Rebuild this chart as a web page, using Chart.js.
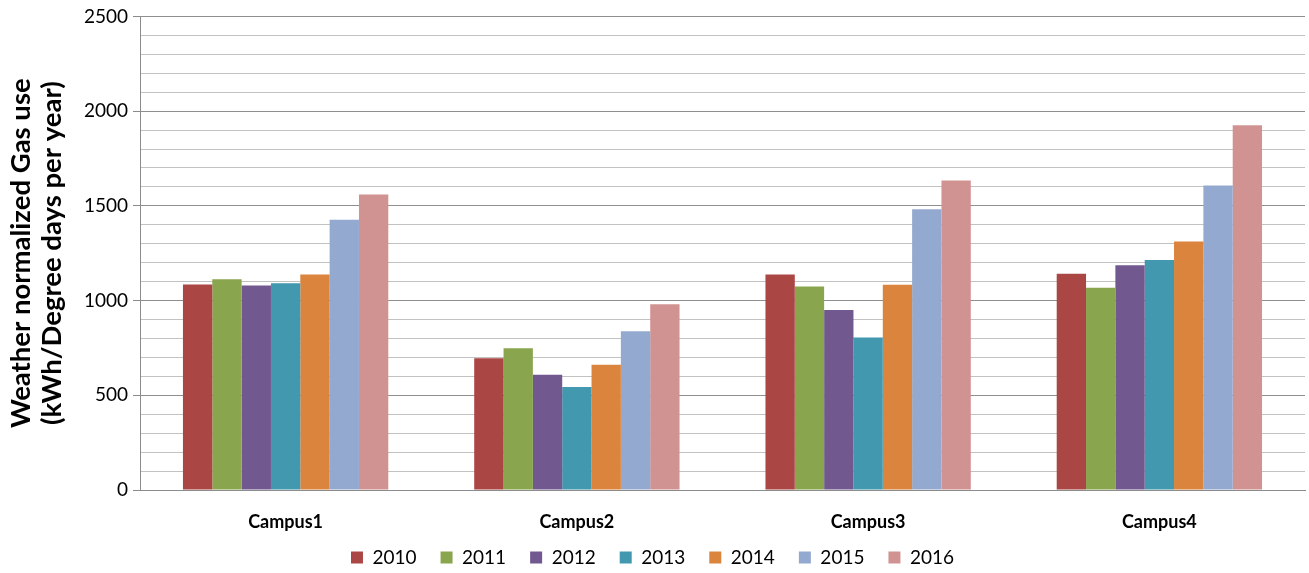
<!DOCTYPE html>
<html>
<head>
<meta charset="utf-8">
<script src="https://cdn.jsdelivr.net/npm/chart.js@4/dist/chart.umd.min.js"></script>
<style>
  html, body { margin: 0; padding: 0; background: #fff; }
  #wrap { width: 1309px; height: 573px; }
</style>
</head>
<body>
<div id="wrap"><canvas id="graphCanvas"></canvas></div>
<script>
// Data
const campuses = ['Campus1', 'Campus2', 'Campus3', 'Campus4'];
const years = ['2010', '2011', '2012', '2013', '2014', '2015', '2016'];
const gas2010 = [1085, 695, 1138, 1141];
const gas2011 = [1112, 748, 1074, 1067];
const gas2012 = [1080, 608, 950, 1186];
const gas2013 = [1092, 544, 805, 1214];
const gas2014 = [1138, 661, 1083, 1312];
const gas2015 = [1427, 838, 1482, 1608];
const gas2016 = [1560, 980, 1634, 1926];
const yTicks = [0, 500, 1000, 1500, 2000, 2500];

const colors = ['#AA4643', '#89A54E', '#71588F', '#4198AF', '#DB843D', '#93A9CF', '#D19392'];
const series = [gas2010, gas2011, gas2012, gas2013, gas2014, gas2015, gas2016];
const font = 'Lato, "Open Sans", sans-serif';

const ctx = document.getElementById('graphCanvas').getContext('2d');

const lineGraph = new Chart(ctx, {
    type: 'bar',
    data: {
        labels: campuses,
        datasets: years.map((y, i) => ({
            label: y,
            data: series[i],
            backgroundColor: colors[i],
            borderWidth: 0,
            categoryPercentage: 0.705,
            barPercentage: 1.0,
        })),
    },
    options: {
        responsive: true,
        maintainAspectRatio: false,
        animation: false,
        layout: { padding: { top: 13, right: 4, bottom: -4, left: 0 } },
        plugins: {
            tooltip: { enabled: false },
            legend: {
                position: 'bottom',
                labels: {
                    boxWidth: 12,
                    boxHeight: 12,
                    padding: 24,
                    color: '#000',
                    font: { family: font, size: 19 },
                },
            },
        },
        scales: {
            x: {
                grid: { display: false, drawTicks: false },
                border: { display: true, color: '#8c8c8c', width: 1 },
                ticks: {
                    color: '#000',
                    mirror: true,   // keeps the labels from being clipped to the short axis box
                    padding: -43,
                    font: { family: font, size: 18, weight: 'bold' },
                },
                afterFit: (s) => { s.height = 34; },
            },
            y: {
                min: 0,
                max: 2500,
                afterBuildTicks: (s) => {
                    const t = [];
                    for (let v = 0; v <= 2500; v += 100) t.push({ value: v });
                    s.ticks = t;
                },
                ticks: {
                    autoSkip: false,
                    color: '#000',
                    padding: 5,
                    font: { family: font, size: 19 },
                    callback: (v) => (yTicks.includes(v) ? String(v) : ''),
                },
                grid: {
                    color: (c) => (c.tick && c.tick.value % 500 === 0 ? '#8f8f8f' : '#c2c2c2'),
                    tickColor: (c) => (c.tick && c.tick.value % 500 === 0 ? '#8c8c8c' : 'rgba(0,0,0,0)'),
                    tickLength: 7,
                    lineWidth: 1,
                },
                border: { display: true, color: '#8c8c8c', width: 1 },
                title: {
                    display: true,
                    text: ['Weather normalized Gas use', '(kWh/Degree days per year)'],
                    color: '#000',
                    padding: { top: 5, bottom: 4 },
                    font: { family: font, size: 27.5, weight: 'bold', lineHeight: 1.15 },
                },
                afterFit: (s) => { s.width = 140; },
            },
        },
    },
});
</script>
</body>
</html>
